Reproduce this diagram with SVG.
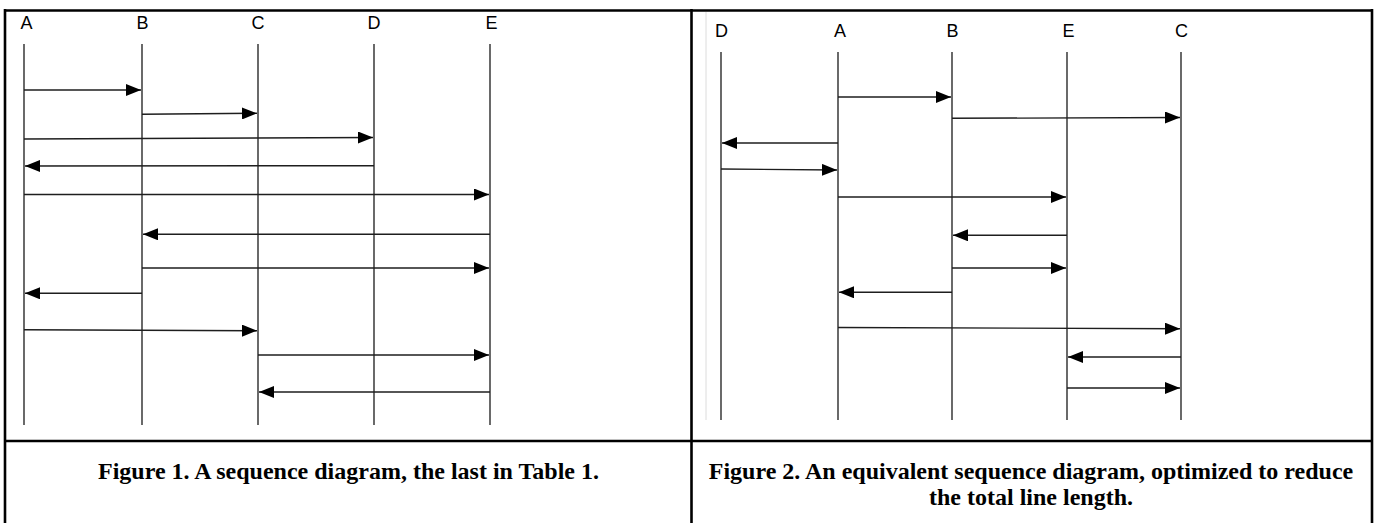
<svg xmlns="http://www.w3.org/2000/svg" width="1380" height="523" viewBox="0 0 1380 523">
  <style>
    .frame { fill: none; stroke: #000; stroke-width: 2.6; }
    .life { stroke: #2a2a2a; stroke-width: 1.4; fill: none; }
    .msg { stroke: #1e1e1e; stroke-width: 1.4; fill: none; marker-end: url(#arrow); }
    .lbl { font-family: "Liberation Sans", Arial, sans-serif; font-size: 18px; fill: #000; text-anchor: middle; }
    .cap { font-family: "Liberation Serif", "Times New Roman", serif; font-size: 24px; font-weight: bold; fill: #000; text-anchor: middle; }
  </style>
  <defs>
    <marker id="arrow" markerUnits="userSpaceOnUse" markerWidth="16" markerHeight="12" refX="15" refY="6" orient="auto">
      <path d="M0,0 L15,6 L0,12 Z" fill="#000"/>
    </marker>
  </defs>
  <rect width="1380" height="523" fill="#fff"/>

  <g id="table">
    <line class="frame" x1="5" y1="10.5" x2="1372" y2="10.5"/>
    <line class="frame" x1="5" y1="9" x2="5" y2="530"/>
    <line class="frame" x1="691.5" y1="9" x2="691.5" y2="530"/>
    <line class="frame" x1="1372" y1="9" x2="1372" y2="530"/>
    <line class="frame" x1="5" y1="441" x2="1372" y2="441"/>
    <line x1="706" y1="12" x2="706" y2="420" stroke="#dcdcdc" stroke-width="1"/>
  </g>

  <!-- Figure 1 lifelines -->
  <g id="f1-A"><text class="lbl" x="26.5" y="29">A</text><line class="life" x1="24" y1="44" x2="24" y2="425"/></g>
  <g id="f1-B"><text class="lbl" x="142.5" y="29">B</text><line class="life" x1="142" y1="44" x2="142" y2="425"/></g>
  <g id="f1-C"><text class="lbl" x="258" y="29">C</text><line class="life" x1="258" y1="44" x2="258" y2="425"/></g>
  <g id="f1-D"><text class="lbl" x="374" y="29">D</text><line class="life" x1="374" y1="44" x2="374" y2="425"/></g>
  <g id="f1-E"><text class="lbl" x="491.5" y="29">E</text><line class="life" x1="490" y1="44" x2="490" y2="425"/></g>

  <!-- Figure 2 lifelines -->
  <g id="f2-D"><text class="lbl" x="721.5" y="37">D</text><line class="life" x1="721" y1="52" x2="721" y2="420"/></g>
  <g id="f2-A"><text class="lbl" x="840" y="37">A</text><line class="life" x1="838" y1="52" x2="838" y2="420"/></g>
  <g id="f2-B"><text class="lbl" x="952.5" y="37">B</text><line class="life" x1="952" y1="52" x2="952" y2="420"/></g>
  <g id="f2-E"><text class="lbl" x="1068.5" y="37">E</text><line class="life" x1="1067" y1="52" x2="1067" y2="420"/></g>
  <g id="f2-C"><text class="lbl" x="1181.5" y="37">C</text><line class="life" x1="1181" y1="52" x2="1181" y2="420"/></g>

  <g id="connectors">
    <!-- Figure 1 -->
    <line class="msg" x1="24" y1="90" x2="141" y2="90"/>
    <line class="msg" x1="142" y1="114.3" x2="257" y2="113.3"/>
    <line class="msg" x1="24" y1="139" x2="373" y2="137.5"/>
    <line class="msg" x1="374" y1="165.7" x2="25" y2="166"/>
    <line class="msg" x1="24" y1="194.5" x2="489" y2="194.5"/>
    <line class="msg" x1="490" y1="234.3" x2="143" y2="234.3"/>
    <line class="msg" x1="142" y1="268" x2="489" y2="268"/>
    <line class="msg" x1="142" y1="293.3" x2="25" y2="293.3"/>
    <line class="msg" x1="24" y1="329.7" x2="257" y2="330.7"/>
    <line class="msg" x1="258" y1="355" x2="489" y2="355"/>
    <line class="msg" x1="490" y1="392" x2="259" y2="392"/>
    <!-- Figure 2 -->
    <line class="msg" x1="838" y1="97" x2="951" y2="97"/>
    <line class="msg" x1="952" y1="118.3" x2="1180" y2="117.5"/>
    <line class="msg" x1="838" y1="143" x2="722" y2="143"/>
    <line class="msg" x1="721" y1="169" x2="837" y2="170"/>
    <line class="msg" x1="838" y1="197" x2="1066" y2="197"/>
    <line class="msg" x1="1067" y1="235.3" x2="953" y2="235.3"/>
    <line class="msg" x1="952" y1="268" x2="1066" y2="268"/>
    <line class="msg" x1="952" y1="292.3" x2="839" y2="292.3"/>
    <line class="msg" x1="838" y1="327.5" x2="1180" y2="328.7"/>
    <line class="msg" x1="1181" y1="357" x2="1068" y2="357"/>
    <line class="msg" x1="1067" y1="388" x2="1180" y2="388"/>
  </g>

  <g id="captions">
    <text class="cap" x="348.5" y="479">Figure 1. A sequence diagram, the last in Table 1.</text>
    <text class="cap" x="1031" y="479">Figure 2. An equivalent sequence diagram, optimized to reduce</text>
    <text class="cap" x="1031" y="505">the total line length.</text>
  </g>
</svg>
